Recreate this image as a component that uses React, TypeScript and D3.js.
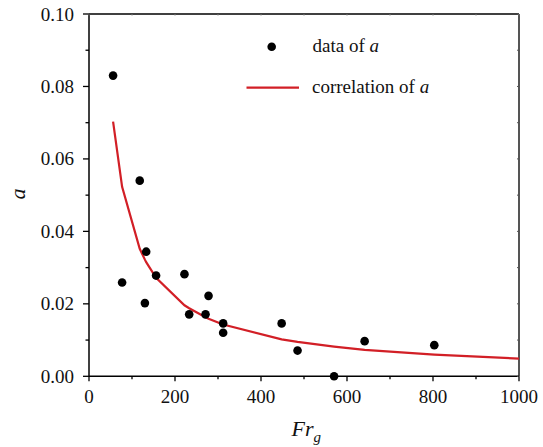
import React from "react";
import * as d3 from "d3";

const dataFr = [56, 118, 133, 77, 156, 222, 130, 278, 233, 271, 312, 312, 448, 485, 570, 641, 803];
const dataA = [0.083, 0.054, 0.0344, 0.0259, 0.0278, 0.0282, 0.0202, 0.0222, 0.0171, 0.0171, 0.0146, 0.012, 0.0146, 0.0071, 0.0, 0.0097, 0.0086];

const corrFr = [56, 77, 118, 130, 133, 156, 222, 233, 271, 278, 312, 448, 485, 570, 641, 803, 1000];
const corrA = [0.0703, 0.0523, 0.0352, 0.0322, 0.0315, 0.0272, 0.0196, 0.0188, 0.0163, 0.0159, 0.0143, 0.0102, 0.0095, 0.0082, 0.0073, 0.006, 0.0049];

const xMajor = [0, 200, 400, 600, 800, 1000];
const xMinor = [100, 300, 500, 700, 900];
const yMajor = [0, 0.02, 0.04, 0.06, 0.08, 0.1];
const yMinor = [0.01, 0.03, 0.05, 0.07, 0.09];

const W = 543, H = 447;
const left = 89, right = 519, top = 14, bottom = 376.3;
const RED = "#d21f26";
const TF = { fontFamily: "Liberation Serif" };

export default function App() {
  const x = d3.scaleLinear().domain([0, 1000]).range([left, right]);
  const y = d3.scaleLinear().domain([0, 0.1]).range([bottom, top]);
  const line = d3.line<number>().x((_, i) => x(corrFr[i])).y((d) => y(d));
  return (
    <div style={{ position: "absolute", left: 0, top: 0, width: W, height: H, fontFamily: "Liberation Serif" }}>
      <svg width={W} height={H} style={{ display: "block", background: "#fff" }}>
        <rect x={0} y={0} width={W} height={H} fill="#fff" />
        {/* frame */}
        <line x1={left} x2={right} y1={top} y2={top} stroke="#000" strokeWidth={1.3} />
        <line x1={right} x2={right} y1={top} y2={bottom} stroke="#555" strokeWidth={2} />
        <line x1={left} x2={right} y1={bottom} y2={bottom} stroke="#000" strokeWidth={1.5} />
        <line x1={left} x2={left} y1={top} y2={bottom} stroke="#000" strokeWidth={1.5} />
        {/* y ticks */}
        {yMajor.map((v) => (
          <g key={"ym" + v}>
            <line x1={left - 6} x2={left} y1={y(v)} y2={y(v)} stroke="#000" strokeWidth={1.3} />
            <line x1={right - 2} x2={right} y1={y(v)} y2={y(v)} stroke="#555" strokeWidth={1} />
            <text x={74} y={y(v) + 6.5} textAnchor="end" fontSize={19} fill="#111" style={TF}>
              {v.toFixed(2)}
            </text>
          </g>
        ))}
        {yMinor.map((v) => (
          <g key={"yn" + v}>
            <line x1={left - 3.5} x2={left} y1={y(v)} y2={y(v)} stroke="#000" strokeWidth={1.3} />
            <line x1={right - 2} x2={right} y1={y(v)} y2={y(v)} stroke="#555" strokeWidth={1} />
          </g>
        ))}
        {/* x ticks */}
        {xMajor.map((v) => (
          <g key={"xm" + v}>
            <line x1={x(v)} x2={x(v)} y1={bottom} y2={bottom + 5} stroke="#000" strokeWidth={1.3} />
            <line x1={x(v)} x2={x(v)} y1={top} y2={top + 1.5} stroke="#777" strokeWidth={1} />
            <text x={x(v)} y={403} textAnchor="middle" fontSize={19} fill="#111" style={TF}>
              {v}
            </text>
          </g>
        ))}
        {xMinor.map((v) => (
          <g key={"xn" + v}>
            <line x1={x(v)} x2={x(v)} y1={bottom} y2={bottom + 3} stroke="#000" strokeWidth={1.3} />
            <line x1={x(v)} x2={x(v)} y1={top} y2={top + 1.5} stroke="#777" strokeWidth={1} />
          </g>
        ))}
        {/* axis titles */}
        <text x={291.5} y={435.5} fontSize={22} fontStyle="italic" fill="#111" style={TF}>
          Fr
          <tspan fontSize={15} dy={6}>g</tspan>
        </text>
        <text transform={`translate(25,194) rotate(-90)`} textAnchor="middle" fontSize={22} fontStyle="italic" fill="#111" style={TF}>
          a
        </text>
        {/* correlation line */}
        <path d={line(corrA) || ""} fill="none" stroke={RED} strokeWidth={2.2} />
        {/* data points */}
        {dataFr.map((f, i) => (
          <circle key={"p" + i} cx={x(f)} cy={y(dataA[i])} r={4.3} fill="#000" />
        ))}
        {/* legend */}
        <circle cx={271.7} cy={46.7} r={4.3} fill="#000" />
        <text x={312.5} y={51.5} fontSize={19} fill="#111" style={TF}>
          data of <tspan fontStyle="italic">a</tspan>
        </text>
        <line x1={246.5} x2={299} y1={87.7} y2={87.7} stroke={RED} strokeWidth={2.2} />
        <text x={312} y={92.5} fontSize={19} fill="#111" style={TF}>
          correlation of <tspan fontStyle="italic">a</tspan>
        </text>
      </svg>
    </div>
  );
}
